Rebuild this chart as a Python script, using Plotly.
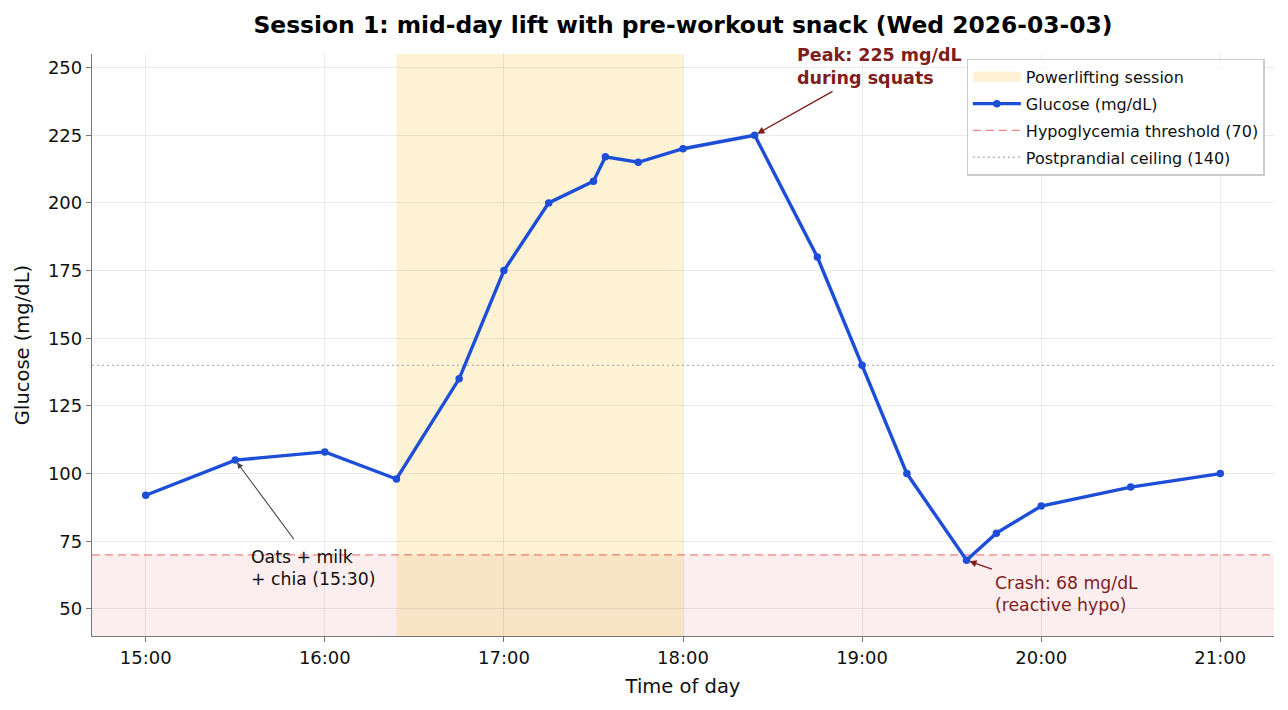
import plotly.graph_objects as go

# ---------------- data ----------------
times = ["15:00", "15:30", "16:00", "16:24", "16:45", "17:00", "17:15", "17:30", "17:34",
         "17:45", "18:00", "18:24", "18:45", "19:00", "19:15", "19:35", "19:45", "20:00",
         "20:30", "21:00"]
glucose = [92, 105, 108, 98, 135, 175, 200, 208, 217, 215, 220, 225, 180, 140, 100, 68,
           78, 88, 95, 100]

tick_times = ["15:00", "16:00", "17:00", "18:00", "19:00", "20:00", "21:00"]
y_ticks = [50, 75, 100, 125, 150, 175, 200, 225, 250]

session_start = "16:24"
session_end = "18:00"
hypo_threshold = 70
postprandial_ceiling = 140
y_min, y_max = 40, 255
x_min, x_max = "14:42", "21:18"

peak_time, peak_value = "18:24", 225
snack_time, snack_value = "15:30", 105
crash_time, crash_value = "19:35", 68


def hrs(t):
    h, m = t.split(":")
    return int(h) + float(m) / 60.0


x = [hrs(t) for t in times]

FONT = "DejaVu Sans"
BLUE = "#1d4ed8"
DARKRED = "#7f1d1d"
SESSION_FILL = "rgba(245,190,40,0.2)"

fig = go.Figure()

# legend-only entry for the session band (thick line gives a patch-like icon)
fig.add_trace(go.Scatter(
    x=[None], y=[None], mode="lines", line=dict(color=SESSION_FILL, width=13),
    name="Powerlifting session", legendgroup="a", legendrank=1,
))

fig.add_trace(go.Scatter(
    x=x, y=glucose, mode="lines+markers", name="Glucose (mg/dL)",
    line=dict(color=BLUE, width=3.4),
    marker=dict(color=BLUE, size=7.5),
    legendgroup="b", legendrank=2,
))

# hypo zone fill
fig.add_shape(type="rect", xref="paper", x0=0, x1=1, yref="y", y0=y_min, y1=hypo_threshold,
              fillcolor="rgba(220,38,38,0.08)", line=dict(width=0), layer="below")
# session band
fig.add_shape(type="rect", xref="x", x0=hrs(session_start), x1=hrs(session_end),
              yref="paper", y0=0, y1=1,
              fillcolor=SESSION_FILL, line=dict(width=0), layer="below")
# threshold lines
fig.add_shape(type="line", xref="paper", x0=0, x1=1, yref="y", y0=hypo_threshold, y1=hypo_threshold,
              line=dict(color="rgba(239,68,68,0.65)", width=1.3, dash="8px,5px"), layer="below",
              name="Hypoglycemia threshold (70)", showlegend=True, legendgroup="c", legendrank=3)
fig.add_shape(type="line", xref="paper", x0=0, x1=1, yref="y", y0=postprandial_ceiling,
              y1=postprandial_ceiling,
              line=dict(color="rgba(120,120,140,0.55)", width=1.3, dash="2px,3px"), layer="below",
              name="Postprandial ceiling (140)", showlegend=True, legendgroup="d", legendrank=4)

# arrows (tail positions are layout choices)
fig.add_annotation(x=hrs(peak_time), y=peak_value, ax=hrs("18:50.6"), ay=241.5,
                   axref="x", ayref="y", text="", showarrow=True, arrowhead=2, arrowsize=1.1,
                   arrowwidth=1.3, arrowcolor=DARKRED, standoff=3)
fig.add_annotation(x=hrs(snack_time), y=snack_value, ax=hrs("15:50"), ay=75.2,
                   axref="x", ayref="y", text="", showarrow=True, arrowhead=2, arrowsize=1.1,
                   arrowwidth=1.1, arrowcolor="#444444", standoff=3)
fig.add_annotation(x=hrs(crash_time), y=crash_value, ax=hrs("19:44"), ay=64.5,
                   axref="x", ayref="y", text="", showarrow=True, arrowhead=2, arrowsize=1.1,
                   arrowwidth=1.3, arrowcolor=DARKRED, standoff=3)

# annotation texts
fig.add_annotation(x=hrs("18:37.4"), y=250.4, xref="x", yref="y", xanchor="left", yanchor="middle",
                   align="left", showarrow=False,
                   text="<b>Peak: 225 mg/dL<br>during squats</b>",
                   font=dict(family=FONT, size=17.5, color=DARKRED))
fig.add_annotation(x=hrs("15:34.6"), y=65.3, xref="x", yref="y", xanchor="left", yanchor="middle",
                   align="left", showarrow=False,
                   text="Oats + milk<br>+ chia (15:30)",
                   font=dict(family=FONT, size=17.3, color="#111111"))
fig.add_annotation(x=hrs("19:44"), y=55.6, xref="x", yref="y",
                   xanchor="left", yanchor="middle", align="left", showarrow=False,
                   text="Crash: 68 mg/dL<br>(reactive hypo)",
                   font=dict(family=FONT, size=17.3, color=DARKRED))

fig.update_layout(
    width=1288, height=710,
    margin=dict(l=92, r=14, t=54, b=74),
    paper_bgcolor="white", plot_bgcolor="white",
    font=dict(family=FONT, size=18, color="#111111"),
    title=dict(text="<b>Session 1: mid-day lift with pre-workout snack (Wed 2026-03-03)</b>",
               x=683 / 1288, xanchor="center", y=(710 - 25) / 710, yanchor="middle",
               yref="container", font=dict(family=FONT, size=23.4, color="#000000")),
    legend=dict(x=0.992, y=0.992, xanchor="right", yanchor="top",
                bgcolor="rgba(255,255,255,0.85)", bordercolor="#cccccc", borderwidth=1.3,
                font=dict(family=FONT, size=16, color="#111111"),
                tracegroupgap=3, itemwidth=48),
    showlegend=True,
)

fig.update_xaxes(
    range=[hrs(x_min), hrs(x_max)],
    tickvals=[hrs(t) for t in tick_times], ticktext=tick_times,
    showgrid=True, gridcolor="rgba(0,0,0,0.08)", gridwidth=1,
    showline=True, linecolor="#777777", linewidth=1.3,
    ticks="outside", ticklen=5, tickcolor="#777777", tickwidth=1.2,
    tickfont=dict(family=FONT, size=18, color="#111111"),
    title=dict(text="Time of day", font=dict(family=FONT, size=19.5, color="#111111"), standoff=12),
    zeroline=False,
)
fig.update_yaxes(
    range=[y_min, y_max],
    tickvals=y_ticks,
    showgrid=True, gridcolor="rgba(0,0,0,0.08)", gridwidth=1,
    showline=True, linecolor="#777777", linewidth=1.3,
    ticks="outside", ticklen=5, tickcolor="#777777", tickwidth=1.2,
    tickfont=dict(family=FONT, size=18, color="#111111"),
    title=dict(text="Glucose (mg/dL)", font=dict(family=FONT, size=19.5, color="#111111"), standoff=13),
    zeroline=False,
)

fig.write_html("out.html")
